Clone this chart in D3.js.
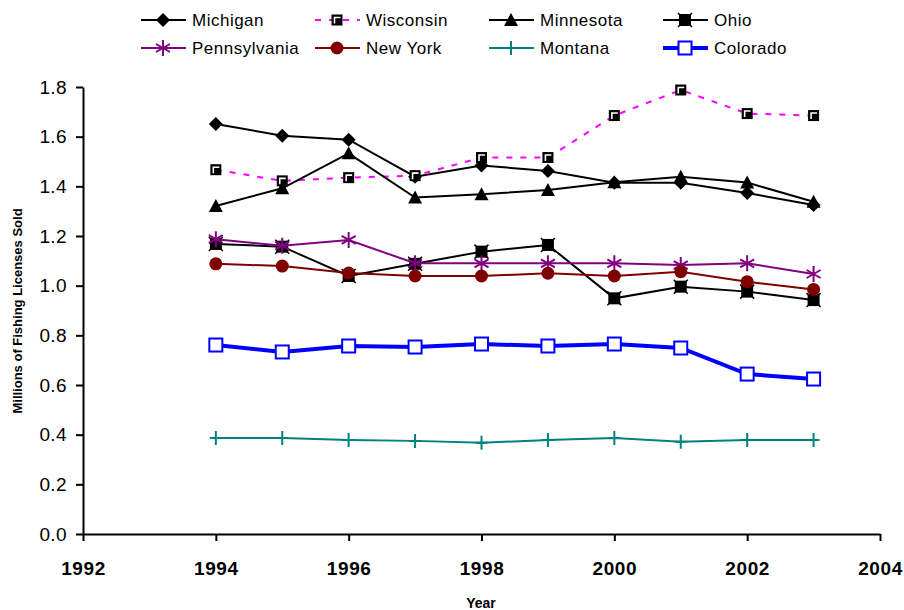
<!DOCTYPE html>
<html>
<head>
<meta charset="utf-8">
<script src="https://cdn.jsdelivr.net/npm/d3@7"></script>
<style>
  body { margin: 0; background: #fff; }
  text { font-family: "Liberation Sans", Arial, sans-serif; }
</style>
</head>
<body>
<script>
// chart size
const width = 904;
const height = 610;

// Data (millions of licenses)
const years = [1994, 1995, 1996, 1997, 1998, 1999, 2000, 2001, 2002, 2003];
const michigan = [1.651, 1.604, 1.588, 1.439, 1.484, 1.462, 1.414, 1.414, 1.373, 1.325];
const wisconsin = [1.467, 1.422, 1.435, 1.443, 1.516, 1.516, 1.685, 1.788, 1.693, 1.685];
const minnesota = [1.321, 1.392, 1.533, 1.355, 1.368, 1.385, 1.416, 1.439, 1.415, 1.338];
const ohio = [1.168, 1.157, 1.039, 1.088, 1.137, 1.164, 0.949, 0.996, 0.976, 0.942];
const pennsylvania = [1.187, 1.161, 1.184, 1.090, 1.090, 1.090, 1.090, 1.083, 1.090, 1.047];
const newYork = [1.088, 1.079, 1.051, 1.039, 1.039, 1.050, 1.039, 1.056, 1.016, 0.985];
const montana = [0.387, 0.387, 0.379, 0.375, 0.367, 0.379, 0.387, 0.371, 0.379, 0.379];
const colorado = [0.761, 0.733, 0.757, 0.753, 0.765, 0.757, 0.765, 0.749, 0.644, 0.624];

const xTicks = [1992, 1994, 1996, 1998, 2000, 2002, 2004];
const yTicks = [0, 0.2, 0.4, 0.6, 0.8, 1.0, 1.2, 1.4, 1.6, 1.8];

// series list (drawing order)
const series = [
    { name: "Michigan", values: michigan, color: "#000", width: 2, dash: null, marker: "diamond" },
    { name: "Wisconsin", values: wisconsin, color: "#ff00ff", width: 2, dash: "6,8", marker: "wsquare" },
    { name: "Minnesota", values: minnesota, color: "#000", width: 2, dash: null, marker: "triangle" },
    { name: "Ohio", values: ohio, color: "#000", width: 2, dash: null, marker: "xsquare" },
    { name: "Pennsylvania", values: pennsylvania, color: "#800080", width: 2, dash: null, marker: "star" },
    { name: "New York", values: newYork, color: "#800000", width: 2, dash: null, marker: "circle" },
    { name: "Montana", values: montana, color: "#008080", width: 2, dash: null, marker: "plus" },
    { name: "Colorado", values: colorado, color: "#0000ff", width: 4, dash: null, marker: "hsquare" }
];

const svg = d3.select("body").append("svg")
    .attr("width", width)
    .attr("height", height);

// scales
const x = d3.scaleLinear().domain([1992, 2004]).range([83, 880]);
const y = d3.scaleLinear().domain([0, 1.8]).range([534, 87]);

// axes
svg.append("g")
    .attr("transform", "translate(0,534)")
    .call(d3.axisBottom(x).tickValues(xTicks).tickFormat(d3.format("d")).tickSize(7).tickSizeOuter(0).tickPadding(21))
    .call(g => g.selectAll("path, line").attr("stroke", "#000").attr("stroke-width", 2))
    .call(g => g.selectAll("text").attr("fill", "#000").style("font-size", "19px").style("font-weight", "bold")
        .style("letter-spacing", "0.6px")
        .style("font-family", "Liberation Sans, Arial, sans-serif"));

svg.append("g")
    .attr("transform", "translate(83,0)")
    .call(d3.axisLeft(y).tickValues(yTicks).tickFormat(d3.format(".1f")).tickSize(7).tickSizeOuter(0).tickPadding(9))
    .call(g => g.selectAll("path, line").attr("stroke", "#000").attr("stroke-width", 2))
    .call(g => g.selectAll("text").attr("fill", "#000").style("font-size", "19px")
        .style("letter-spacing", "0.4px")
        .style("font-family", "Liberation Sans, Arial, sans-serif"));

// axis titles
svg.append("text")
    .attr("x", 481)
    .attr("y", 608)
    .attr("text-anchor", "middle")
    .style("font-size", "14px")
    .style("font-weight", "bold")
    .text("Year");

svg.append("text")
    .attr("transform", "translate(22,311) rotate(-90)")
    .attr("text-anchor", "middle")
    .style("font-size", "13px")
    .style("font-weight", "bold")
    .text("Millions of Fishing Licenses Sold");

// draw a marker of a given type into a group
function drawMarker(g, type, color) {
    if (type === "diamond") {
        g.append("path").attr("d", "M0,-7L7,0L0,7L-7,0Z").attr("fill", "#000");
    } else if (type === "triangle") {
        g.append("path").attr("d", "M0,-7L7,6H-7Z").attr("fill", "#000");
    } else if (type === "circle") {
        g.append("circle").attr("r", 6.5).attr("fill", color);
    } else if (type === "wsquare") {
        g.append("rect").attr("x", -5.5).attr("y", -5.5).attr("width", 11).attr("height", 11).attr("fill", "#000");
        g.append("path").attr("d", "M-2.5,3.5V-2.5H3.5").attr("fill", "none").attr("stroke", "#fff").attr("stroke-width", 1.6);
    } else if (type === "xsquare") {
        g.append("rect").attr("x", -6).attr("y", -6).attr("width", 12).attr("height", 12).attr("fill", "#000");
        g.append("path").attr("d", "M-7,-7L7,7M7,-7L-7,7").attr("stroke", "#000").attr("stroke-width", 1.5);
    } else if (type === "star") {
        g.append("path").attr("d", "M0,-8V8M-7,-4L7,4M-7,4L7,-4").attr("stroke", color).attr("stroke-width", 2);
    } else if (type === "plus") {
        g.append("path").attr("d", "M0,-7V7M-6,0H6").attr("stroke", color).attr("stroke-width", 2);
    } else if (type === "hsquare") {
        g.append("rect").attr("x", -6.5).attr("y", -6.5).attr("width", 13).attr("height", 13)
            .attr("fill", "#fff").attr("stroke", color).attr("stroke-width", 2);
    }
}

const line = d3.line()
    .x((d, i) => x(years[i]))
    .y(d => y(d));

// lines and markers
series.forEach(s => {
    svg.append("path")
        .datum(s.values)
        .attr("fill", "none")
        .attr("stroke", s.color)
        .attr("stroke-width", s.width)
        .attr("stroke-dasharray", s.dash)
        .attr("d", line);

    svg.append("g").selectAll("g")
        .data(s.values)
        .join("g")
        .attr("transform", (d, i) => "translate(" + x(years[i]) + "," + y(d) + ")")
        .each(function () { drawMarker(d3.select(this), s.marker, s.color); });
});

// legend
const legendX = [141, 315, 489, 663];
const legendY = [20, 48];

series.forEach((s, i) => {
    const lg = svg.append("g")
        .attr("transform", "translate(" + legendX[i % 4] + "," + legendY[Math.floor(i / 4)] + ")");
    lg.append("line")
        .attr("x1", 0).attr("x2", 45)
        .attr("stroke", s.color)
        .attr("stroke-width", s.width)
        .attr("stroke-dasharray", s.dash);
    drawMarker(lg.append("g").attr("transform", "translate(22,0)"), s.marker, s.color);
    lg.append("text")
        .attr("x", 51)
        .attr("y", 6)
        .style("font-size", "17px")
        .style("letter-spacing", "0.5px")
        .text(s.name);
});
</script>
</body>
</html>
